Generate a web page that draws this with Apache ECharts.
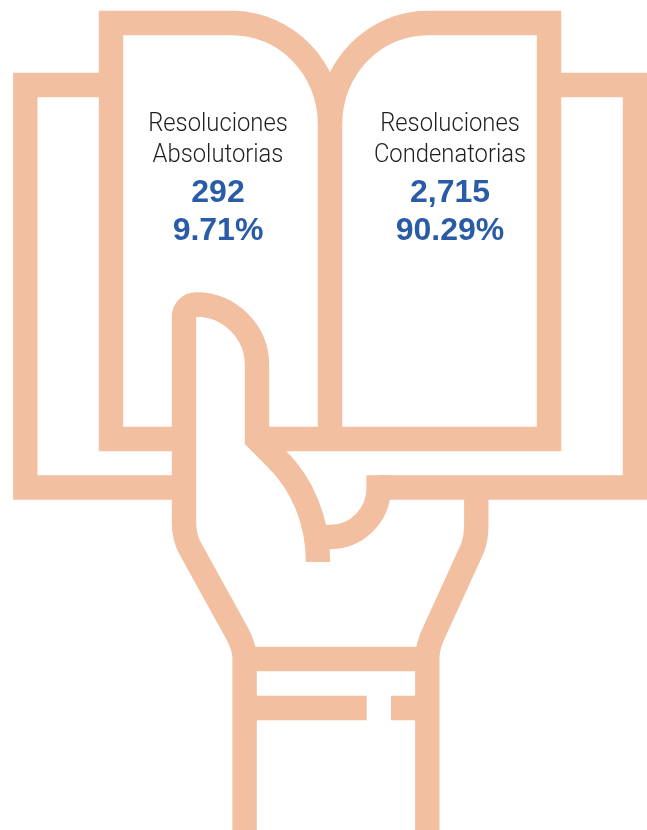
<!DOCTYPE html>
<html>
<head>
<meta charset="utf-8">
<style>html,body{margin:0;padding:0;background:#fff}#c{width:647px;height:830px}</style>
<script src="https://cdn.jsdelivr.net/npm/echarts@6/dist/echarts.min.js"></script>
</head>
<body>
<div id="c"></div>
<script>
const categories = [['Resoluciones', 'Absolutorias'], ['Resoluciones', 'Condenatorias']];
const counts = ['292', '2,715'];
const percents = ['9.71%', '90.29%'];

const PEACH = '#F2BFA0', BLUE = '#2A5BA6', INK = '#1f1f1f';
const iconPaths = [
  'M111 85 L25.3 85 L25.3 487.5 L184 487.5',
  'M549 85 L635 85 L635 487.5 L378.6 487.5',
  'M184 439 L111 439 L111 23 L232 23',
  'M257 439 L549 439 L549 23 L428 23 C374 23 330 68 330 124 L330 439',
  'M232 23 C286 23 330 68 330 124',
  'M244.6 830 L244.6 658 C244.6 650 242 643 238 635 L190 548 C186 541 184 533 184 522 L184 316.5 A12 12 0 0 1 196 304.5 C230 304.5 257 332 257 365 L257 439 L277 459 C302 484 318 520 318 562',
  'M378.6 475.3 L378.6 488 A48.6 48.6 0 0 1 330 537 L326 537',
  'M427.3 830 L427.3 658 C427.3 651 429 645 431.5 638 L473 547 C475 541 476.3 535 476.3 525 L476.3 487',
  'M244.6 659 L427.3 659',
  'M244.6 708 L366.7 708',
  'M391 708 L427.3 708'
];
const textCenters = [218, 450];

function labelChildren(i) {
  const x = textCenters[i];
  const kids = categories[i].map((t, j) => ({
    type: 'text', x, y: [124, 155][j], scaleX: 0.915,
    style: { text: t, fill: INK, font: '300 26px Roboto, "Liberation Sans"', align: 'center', verticalAlign: 'middle' }
  }));
  kids.push({ type: 'text', x, y: 193.5, style: { text: counts[i], fill: BLUE, font: 'bold 32px "Liberation Sans"', align: 'center', verticalAlign: 'middle' } });
  kids.push({ type: 'text', x, y: 231.5, style: { text: percents[i], fill: BLUE, font: 'bold 32px "Liberation Sans"', align: 'center', verticalAlign: 'middle' } });
  return kids;
}

const chart = echarts.init(document.getElementById('c'));
chart.setOption({
  animation: false,
  backgroundColor: '#fff',
  series: [
    {
      type: 'custom', coordinateSystem: 'none', silent: true, z: 2,
      data: iconPaths.map((_, i) => i),
      renderItem: (params) => ({
        type: 'path',
        shape: { pathData: iconPaths[params.dataIndex] },
        style: { fill: 'none', stroke: PEACH, lineWidth: 24.4, lineJoin: 'miter', lineCap: 'butt', miterLimit: 10 }
      })
    },
    {
      type: 'custom', coordinateSystem: 'none', silent: true, z: 5,
      data: categories.map((_, i) => i),
      renderItem: (params) => ({ type: 'group', children: labelChildren(params.dataIndex) })
    }
  ]
});
</script>
</body>
</html>
